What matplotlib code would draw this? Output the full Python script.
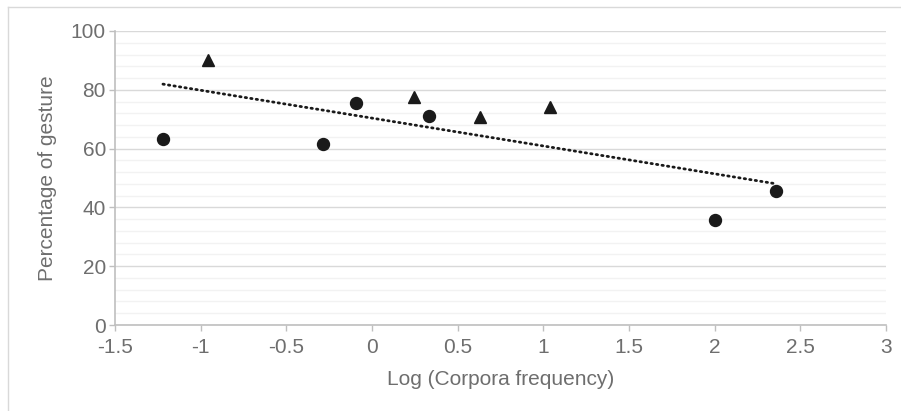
import numpy as np
import matplotlib.pyplot as plt
from matplotlib.ticker import MultipleLocator
from matplotlib.lines import Line2D

# circles
circle_x = [-1.22, -0.286, -0.093, 0.333, 2.003, 2.359]
circle_y = [63.3, 61.6, 75.5, 71.1, 35.7, 45.6]
# triangles
tri_x = [-0.957, 0.245, 0.631, 1.04]
tri_y = [90.1, 77.6, 70.7, 74.1]

x_label = "Log (Corpora frequency)"
y_label = "Percentage of gesture"

plt.rcParams['font.family'] = ['Liberation Sans', 'DejaVu Sans']
grey_text = "#6e6e6e"

fig = plt.figure(figsize=(9.01, 4.11), dpi=100)
ax = fig.add_axes([0.1276, 0.2092, 0.8558, 0.7154])

# outer chart border (cut at right/bottom)
fig.add_artist(Line2D([8/901, 1], [1 - 7/411, 1 - 7/411], transform=fig.transFigure,
                      color="#d9d9d9", lw=1))
fig.add_artist(Line2D([8/901, 8/901], [0, 1 - 7/411], transform=fig.transFigure,
                      color="#d9d9d9", lw=1))

all_x = np.array(circle_x + tri_x)
all_y = np.array(circle_y + tri_y)
slope, intercept = np.polyfit(all_x, all_y, 1)
tx = np.array([all_x.min(), all_x.max()])
ax.plot(tx, slope * tx + intercept, color="#1a1a1a", lw=2,
        linestyle=(0, (0.5, 1.5)), dash_capstyle="round", zorder=2)

ax.plot(circle_x, circle_y, "o", color="#1a1a1a", markersize=8.6, zorder=3)
ax.plot(tri_x, tri_y, "^", color="#1a1a1a", markersize=8.6, zorder=3)

ax.set_xlim(-1.5, 3)
ax.set_ylim(0, 100)
ax.xaxis.set_major_locator(MultipleLocator(0.5))
ax.yaxis.set_major_locator(MultipleLocator(20))
ax.yaxis.set_minor_locator(MultipleLocator(4))
ax.xaxis.set_major_formatter(plt.FuncFormatter(lambda v, p: f"{v:g}"))

ax.grid(axis="y", which="major", color="#d9d9d9", lw=1)
ax.grid(axis="y", which="minor", color="#f2f2f2", lw=1)
ax.set_axisbelow(True)

for s in ["top", "right"]:
    ax.spines[s].set_visible(False)
for s in ["left", "bottom"]:
    ax.spines[s].set_color("#bfbfbf")
    ax.spines[s].set_linewidth(1.2)

ax.tick_params(axis="both", which="major", colors="#bfbfbf", labelcolor=grey_text,
               labelsize=15, length=4.5, width=1)
ax.tick_params(axis="x", which="major", pad=5)
ax.tick_params(axis="y", which="major", pad=2)
ax.tick_params(axis="y", which="minor", length=0)

ax.set_xlabel(x_label, color=grey_text, fontsize=15)
ax.set_ylabel(y_label, color=grey_text, fontsize=15)
ax.xaxis.set_label_coords(0.5, -0.184)
ax.xaxis.label.set_va("center")
ax.yaxis.set_label_coords(-0.0869, 0.5)
ax.yaxis.label.set_va("center")

fig.savefig("out.png", dpi=100)
